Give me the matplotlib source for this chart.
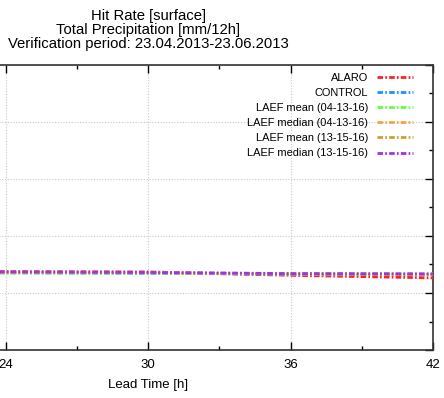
import matplotlib
matplotlib.use('Agg')
import matplotlib.pyplot as plt
from matplotlib.patches import Rectangle
from matplotlib.ticker import MultipleLocator

plt.rcParams['font.family'] = ['Liberation Sans', 'DejaVu Sans']

# lead times [h] and hit rates per model
lead = [18, 24, 30, 36, 42]
alaro = [0.275, 0.275, 0.274, 0.262, 0.253]
control = [0.271, 0.271, 0.269, 0.266, 0.265]
laef_mean_a = [0.270, 0.270, 0.270, 0.267, 0.266]
laef_median_a = [0.272, 0.272, 0.271, 0.267, 0.266]
laef_mean_b = [0.273, 0.273, 0.272, 0.268, 0.266]
laef_median_b = [0.274, 0.274, 0.272, 0.268, 0.267]

names = ['ALARO', 'CONTROL', 'LAEF mean (04-13-16)', 'LAEF median (04-13-16)',
         'LAEF mean (13-15-16)', 'LAEF median (13-15-16)']
series = [alaro, control, laef_mean_a, laef_median_a, laef_mean_b, laef_median_b]
colors = ['#ff2020', '#2090ff', '#60ff40', '#ffa040', '#d0a030', '#a030f0']

fig = plt.figure(figsize=(4.44, 3.98), dpi=100)
# axes runs off the left edge, like the cropped original
ax = fig.add_axes([-0.3074, 0.1206, 1.2826, 0.7161])

for name, vals, c in zip(names, series, colors):
    ax.plot(lead, vals, color=c, lw=2.0, linestyle=(0, (2, 0.8, 0.6, 0.8)), label=name, zorder=3)

ax.set_xlim(18, 42)
ax.set_ylim(0, 1)
ax.xaxis.set_major_locator(MultipleLocator(6))
ax.xaxis.set_minor_locator(MultipleLocator(3))
ax.yaxis.set_major_locator(MultipleLocator(0.2))
ax.yaxis.set_minor_locator(MultipleLocator(0.1))
ax.tick_params(which='both', direction='in', top=True, right=True, labelsize=9.5, pad=6.5)
ax.tick_params(axis='y', labelleft=False)  # y labels are outside the crop
ax.tick_params(which='major', length=6, width=1)
ax.tick_params(which='minor', length=3, width=1)
ax.grid(True, which='major', color='#c8c8c8', linestyle=(0, (1, 1.5)), lw=0.8, zorder=0)
for s in ax.spines.values():
    s.set_linewidth(1.2)
    s.set_color('#333333')

# white key background hides the grid under the legend
ax.add_patch(Rectangle((0.535, 0.65), 0.465, 0.35, transform=ax.transAxes,
                       facecolor='white', edgecolor='none', zorder=1))

ax.legend(loc='upper right', bbox_to_anchor=(0.983, 1.008), frameon=False, markerfirst=False,
          fontsize=7.9, handlelength=3.35, labelspacing=0.47, handletextpad=0.8)

ax.set_xlabel('Lead Time [h]', fontsize=9.5, labelpad=6)
ax.set_title('Hit Rate [surface]\nTotal Precipitation [mm/12h]\nVerification period: 23.04.2013-23.06.2013',
             fontsize=10.7, linespacing=1.0, pad=12)

fig.savefig('out.png', dpi=100)
